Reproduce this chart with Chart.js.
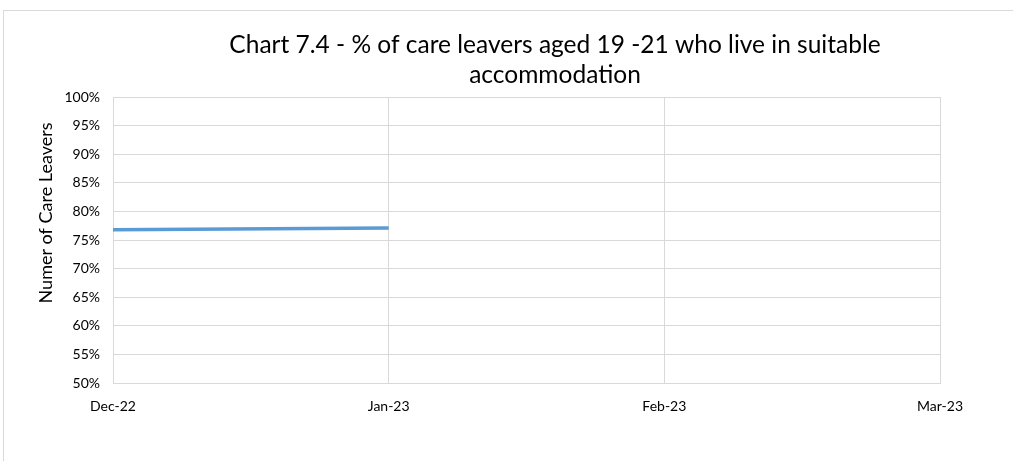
<!DOCTYPE html>
<html>
<head>
<meta charset="utf-8">
<script src="https://cdn.jsdelivr.net/npm/chart.js@4/dist/chart.umd.min.js"></script>
<style>
  html, body { margin: 0; padding: 0; background: #fff; overflow: hidden; }
  #wrap { position: relative; width: 1013px; height: 461px; }
  #frame { position: absolute; left: 3px; top: 10px; width: 1100px; height: 500px; border: 1px solid #d9d9d9; box-sizing: border-box; }
  canvas { position: absolute; left: 0; top: 0; }
</style>
</head>
<body>
<div id="wrap">
  <div id="frame"></div>
  <canvas id="careChart" width="1013" height="461"></canvas>
</div>
<script>
const months = ['Dec-22', 'Jan-23', 'Feb-23', 'Mar-23'];
const suitablePct = [76.8, 77.1, null, null];
const titleLines = ['Chart 7.4 - % of care leavers aged 19 -21 who live in suitable', 'accommodation'];
const yAxisTitle = 'Numer of Care Leavers';

const fontFamily = "Lato, 'Open Sans', sans-serif";

// titles drawn by hand so they can sit off-centre like the original
const titlePlugin = {
    id: 'offsetTitles',
    afterDraw(chart) {
        const ctx = chart.ctx;
        ctx.save();
        ctx.fillStyle = '#000';
        ctx.font = "24.5px " + fontFamily;
        ctx.textAlign = 'center';
        ctx.textBaseline = 'middle';
        titleLines.forEach((line, i) => ctx.fillText(line, 555, 45 + i * 30));

        ctx.translate(46, 213);
        ctx.rotate(-Math.PI / 2);
        ctx.font = "18px " + fontFamily;
        ctx.fillText(yAxisTitle, 0, 0);
        ctx.restore();
    }
};

const ctx = document.getElementById('careChart').getContext('2d');
new Chart(ctx, {
    type: 'line',
    data: {
        labels: months,
        datasets: [{
            data: suitablePct,
            borderColor: '#5b9bd5',
            borderWidth: 3.5,
            pointRadius: 0,
            fill: false,
            tension: 0
        }]
    },
    options: {
        responsive: false,
        animation: false,
        layout: { padding: { left: 0, top: 97, right: 73, bottom: 0 } },
        plugins: {
            legend: { display: false },
            tooltip: { enabled: false }
        },
        scales: {
            x: {
                offset: false,
                grid: { color: '#d9d9d9', drawTicks: false },
                border: { color: '#d9d9d9' },
                ticks: {
                    color: '#000',
                    padding: 15,
                    maxRotation: 0,
                    font: { family: fontFamily, size: 14 }
                },
                afterFit(scale) { scale.height = 78; }
            },
            y: {
                min: 50,
                max: 100,
                grid: { color: '#d9d9d9', drawTicks: false },
                border: { color: '#d9d9d9' },
                ticks: {
                    stepSize: 5,
                    color: '#000',
                    padding: 13,
                    font: { family: fontFamily, size: 14 },
                    callback: v => v + '%'
                },
                afterFit(scale) { scale.width = 113; }
            }
        }
    },
    plugins: [titlePlugin]
});
</script>
</body>
</html>
